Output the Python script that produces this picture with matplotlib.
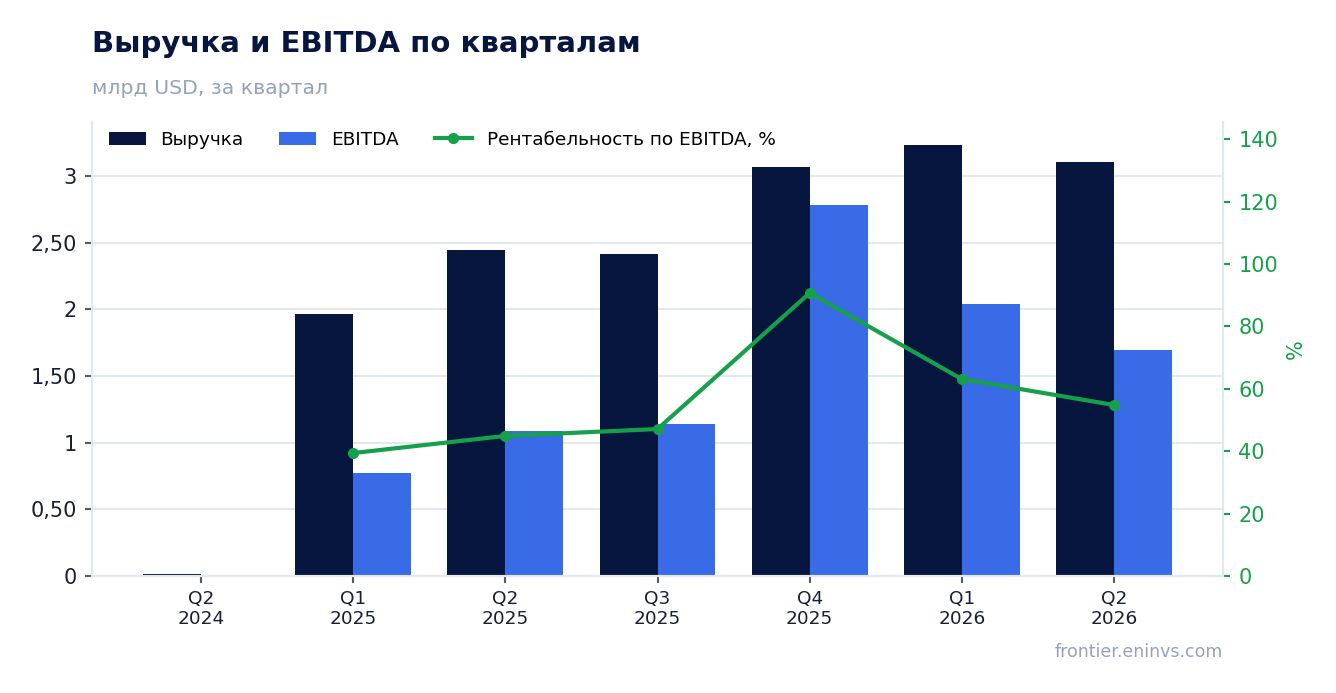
import numpy as np
import matplotlib.pyplot as plt
from matplotlib.ticker import FuncFormatter

# data
quarters = ["Q2\n2024", "Q1\n2025", "Q2\n2025", "Q3\n2025", "Q4\n2025", "Q1\n2026", "Q2\n2026"]
revenue = [0.015, 1.965, 2.445, 2.415, 3.068, 3.233, 3.105]
ebitda = [np.nan, 0.773, 1.088, 1.14, 2.783, 2.04, 1.695]
margin = [np.nan, 39.4, 44.9, 47.1, 90.7, 63.1, 54.8]

NAVY = "#06163f"
BLUE = "#3a6be6"
GREEN = "#16a04a"
GRID = "#e3e8ef"
GRAY = "#94a3b8"
TEXT = "#1a1f36"

fig = plt.figure(figsize=(13.36, 6.93), dpi=100)
ax = fig.add_axes([92 / 1336, 1 - 576 / 693, (1223 - 92) / 1336, (576 - 122) / 693])
ax2 = ax.twinx()

x = np.arange(len(quarters))
w = 0.38
ax.bar(x - w / 2, revenue, w, color=NAVY, label="Выручка", zorder=2)
ax.bar(x + w / 2, ebitda, w, color=BLUE, label="EBITDA", zorder=2)
ax2.plot(x, margin, color=GREEN, lw=3, marker="o", ms=7, label="Рентабельность по EBITDA, %", zorder=3)

ax.set_xlim(-0.716, 6.716)
ax.set_ylim(0, 3.405)
ax2.set_ylim(0, 145.5)

ax.set_yticks([0, 0.5, 1, 1.5, 2, 2.5, 3])
ax.yaxis.set_major_formatter(FuncFormatter(lambda v, p: ("%g" % v) if v == int(v) else ("%.2f" % v).replace(".", ",")))
ax2.set_yticks(range(0, 141, 20))

ax.set_xticks(x)
ax.set_xticklabels(quarters, fontsize=13.3, color=TEXT, linespacing=1.15)
ax.grid(axis="y", color=GRID, lw=1.5, zorder=0)
ax.set_axisbelow(True)

ax.tick_params(axis="y", labelsize=15, colors=TEXT, length=5, width=1.5, pad=6)
ax.tick_params(axis="y", color="#555b66")
ax.tick_params(axis="x", length=5, width=1.5, color="#555b66", pad=5)
ax2.tick_params(axis="y", labelsize=15, colors=GREEN, length=5, width=1.5, pad=6)

for a in (ax, ax2):
    a.spines["top"].set_visible(False)
    for s in ("left", "right", "bottom"):
        a.spines[s].set_color(GRID)
        a.spines[s].set_linewidth(1.5)

ax2.set_ylabel("%", color=GREEN, fontsize=15, labelpad=6)

h1, l1 = ax.get_legend_handles_labels()
h2, l2 = ax2.get_legend_handles_labels()
ax.legend(h1 + h2, l1 + l2, loc="upper left", ncol=3, frameon=False, fontsize=13.3,
          bbox_to_anchor=(0.0, 1.017), handlelength=2.0, handletextpad=0.8, columnspacing=1.95)

fig.text(92 / 1336, 1 - 44 / 693, "Выручка и EBITDA по кварталам", fontsize=21, fontweight="bold",
         color=NAVY, va="center")
fig.text(92 / 1336, 1 - 88 / 693, "млрд USD, за квартал", fontsize=14.7, color=GRAY, va="center")
fig.text(1223 / 1336, 1 - 652 / 693, "frontier.eninvs.com", fontsize=12.5, color=GRAY, va="center", ha="right")

fig.savefig("out.png", dpi=100)
